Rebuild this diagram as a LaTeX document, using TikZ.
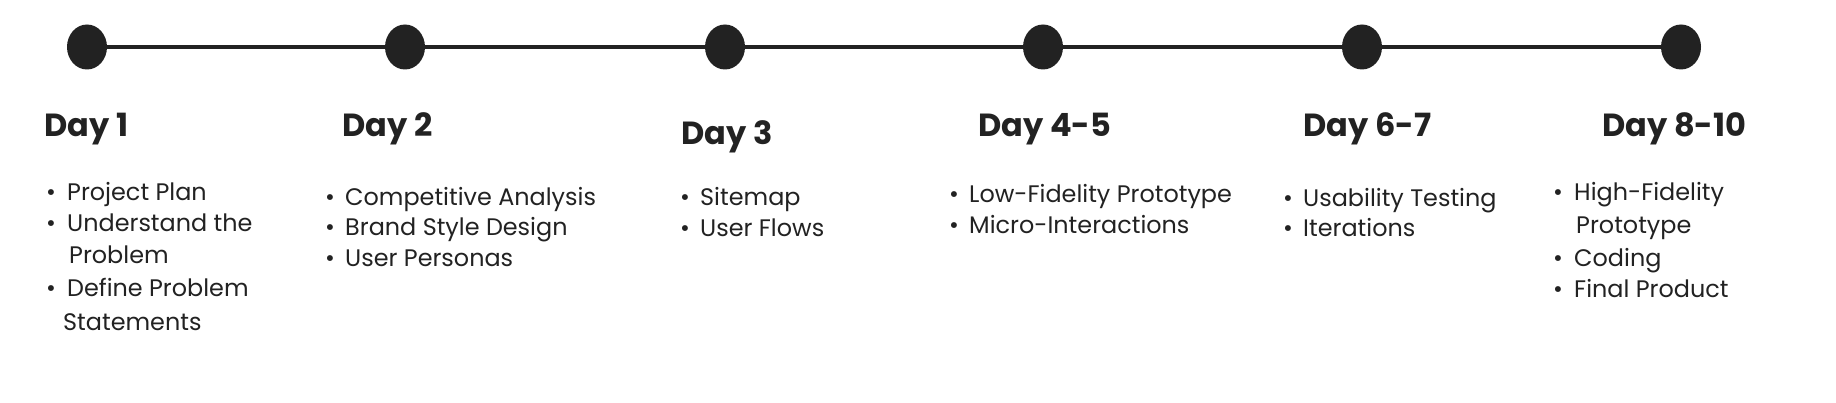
\documentclass[tikz,border=0pt]{standalone}
\usepackage{fontspec}
\setmainfont{Poppins}
\usetikzlibrary{shapes.geometric}
\definecolor{ink}{HTML}{222222}
\begin{document}
\begin{tikzpicture}[x=1pt,y=-1pt,
  dot/.style={ellipse,fill=ink,minimum width=40pt,minimum height=45pt,inner sep=0pt},
  head/.style={anchor=mid west,inner sep=0pt,text=ink,font=\fontsize{32}{38}\selectfont\bfseries},
  item/.style={anchor=mid west,inner sep=0pt,text=ink,font=\fontsize{23.9}{28}\selectfont},
  bul/.style={anchor=mid west,inner sep=0pt,text=ink,font=\fontsize{23.9}{28}\selectfont}]
\useasboundingbox[fill=white] (0,0) rectangle (1836,403);
% dots
\node[dot] (d1) at (87,47) {};
\node[dot] (d2) at (405,47) {};
\node[dot] (d3) at (725,47) {};
\node[dot] (d4) at (1043,47) {};
\node[dot] (d5) at (1362,47) {};
\node[dot] (d6) at (1681,47) {};
\draw[ink,line width=4.5pt] (d1) -- (d2) -- (d3) -- (d4) -- (d5) -- (d6);
% headings
\node[head] (h1) at (44,134) {Day 1};
\node[head] (h2) at (342,134) {Day 2};
\node[head] (h3) at (681,142) {Day 3};
\node[head] (h4) at (978,134) {Day 4-5};
\node[head] (h5) at (1303,134) {Day 6-7};
\node[head] (h6) at (1602,134) {Day 8-10};
% Day 1
\node[bul] (b11) at (46,198) {•};
\node[item] (t11) at (67,198) {Project Plan};
\node[bul] (b12) at (46,228.5) {•};
\node[item] (t12) at (67,228.5) {Understand the};
\node[item] (t12b) at (69,261) {Problem};
\node[bul] (b13) at (46,294) {•};
\node[item] (t13) at (67,294) {Define Problem};
\node[item] (t13b) at (63,328) {Statements};
% Day 2
\node[bul] (b21) at (325,203) {•};
\node[item] (t21) at (345,203) {Competitive Analysis};
\node[bul] (b22) at (325,233) {•};
\node[item] (t22) at (345,233) {Brand Style Design};
\node[bul] (b23) at (325,264) {•};
\node[item] (t23) at (345,264) {User Personas};
% Day 3
\node[bul] (b31) at (680,203) {•};
\node[item] (t31) at (700,203) {Sitemap};
\node[bul] (b32) at (680,234) {•};
\node[item] (t32) at (700,234) {User Flows};
% Day 4-5
\node[bul] (b41) at (949,200) {•};
\node[item] (t41) at (969,200) {Low-Fidelity Prototype};
\node[bul] (b42) at (949,231) {•};
\node[item] (t42) at (969,231) {Micro-Interactions};
% Day 6-7
\node[bul] (b51) at (1283,204) {•};
\node[item] (t51) at (1303,204) {Usability Testing};
\node[bul] (b52) at (1283,234) {•};
\node[item] (t52) at (1303,234) {Iterations};
% Day 8-10
\node[bul] (b61) at (1553,198) {•};
\node[item] (t61) at (1574,198) {High-Fidelity};
\node[item] (t61b) at (1576,231) {Prototype};
\node[bul] (b62) at (1553,264) {•};
\node[item] (t62) at (1574,264) {Coding};
\node[bul] (b63) at (1553,295) {•};
\node[item] (t63) at (1574,295) {Final Product};
\end{tikzpicture}
\end{document}
